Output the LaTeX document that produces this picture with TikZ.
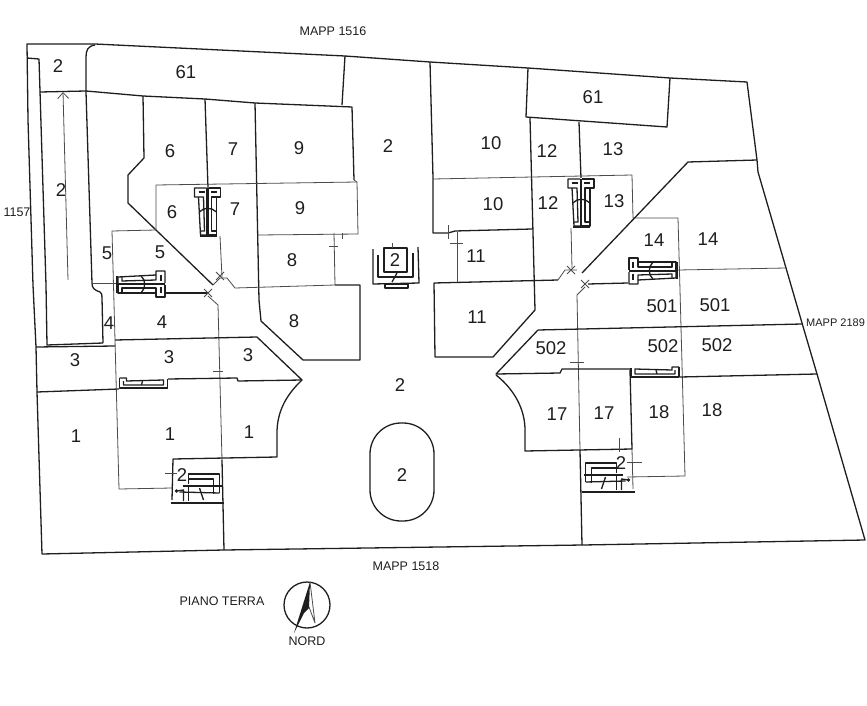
\documentclass[tikz,border=0pt]{standalone}
\usepackage{fontspec}
\setmainfont{Liberation Sans}
\usetikzlibrary{arrows.meta,calc}
\definecolor{ink}{HTML}{1E1E1E}
\tikzset{%
	wall/.style      = {draw=ink, line width=1.3pt, line join=round},
	partition/.style = {draw=ink!80, line width=0.8pt, line join=round},
	heavy/.style     = {draw=ink, line width=2.4pt},
	lot/.style       = {text=ink, font=\fontsize{18.5}{18.5}\selectfont, inner sep=0pt},
	mapp/.style      = {text=ink, font=\fontsize{12.5}{12.5}\selectfont, inner sep=0pt},
	stairtwin/.pic   = {
		\draw[wall] (-1,-24) -- (-13,-24) -- (-13,-15) -- (-9,-15) -- (-7,23) -- (-1,23);
		\draw[wall] (1,-24) -- (13,-24) -- (13,-15) -- (9,-15) -- (9,23) -- (1,23);
		\draw[wall] (-9,-20) -- (-3,-20);
		\draw[wall] (9,-20) -- (3,-20);
		\draw[wall] (-9,-15) -- (-4,-15) -- (-3,19) -- (-7,19);
		\draw[wall] (9,-15) -- (4,-15) -- (4,19) -- (9,19);
		\draw[wall] (-8,0) .. controls (-4,-5) and (4,-5) .. (9,0);
		\draw[heavy] (0,-24) -- (0,24);
		\draw[heavy] (-8,24) -- (9,24);
	},
	stairlow/.pic    = {
		\draw[wall] (-24,-5) -- (-24,5) -- (24,5) -- (24,-4);
		\draw[wall] (-24,-5) -- (-17,-5) -- (-17,-2) -- (20,-3) -- (20,2) -- (-20,2) -- (-20,-2);
		\draw[wall] (-2,2) -- (-1,-2);
		\draw[heavy] (-24,5) -- (24,5);
	},
	stairbase/.pic   = {
		\draw[wall] (-8,-18) -- (-8,-28) -- (23,-28) -- (23,-9);
		\draw[wall] (-8,-23) -- (17,-23) -- (17,-8);
		\draw[heavy] (-14,-16) -- (25,-16);
		\draw[wall] (23,-9) -- (-17,-10);
		\draw[wall] (-8,-15) -- (-8,-1);
		\draw[wall] (-20,-11) -- (-13,-12) -- (-13,-1);
		\fill[ink] (-20,-11) circle (1.8);
		\draw[wall] (3,-14) -- (7,-2);
		\draw[heavy] (-26,1) -- (27,1);
	},
}
\begin{document}
\begin{tikzpicture}[x=1pt,y=-1pt]
	\useasboundingbox (0,0) rectangle (867,706);
	% boundary
	\draw[wall] (27,44) -- (95,44) -- (345,56) -- (430,62) -- (528,68) -- (670,78) -- (747,82) -- (757,160) -- (758,172) -- (786,268) -- (802,323) -- (817,374) -- (865,540) -- (583,545) -- (224,550) -- (42,554) -- (37,392) -- (36,347) -- (33,285) -- (28,120) -- cycle;
	% left strip and top block
	\draw[wall] (27,58) -- (39,59) -- (46,285) -- (47,345) -- (103,343);
	\draw[wall] (95,45) .. controls (88,46) and (86,50) .. (86,57) -- (86,92) -- (92,283) .. controls (92,288) and (94,290) .. (100,292) .. controls (102,293) and (102,295) .. (102,298) -- (103,343);
	\draw[wall] (40,92) -- (86,91) -- (143,96) -- (205,99) -- (255,103) -- (352,107) -- (354,180);
	\draw[wall] (345,56) -- (342,105);
	\draw[wall] (36,347) -- (115,346);
	\draw[wall] (37,392) -- (119,389);
	\draw[partition] (92,283) -- (117,283);
	\draw[partition,-{Straight Barb[length=6pt,width=11pt]}] (68,280) -- (63,92);
	% left wing
	\draw[wall] (143,96) -- (144,158) -- (128,175) -- (128,203) -- (213,285);
	\draw[wall] (205,99) -- (208,188);
	\draw[wall] (255,103) -- (259,300) -- (261,321) -- (303,360) -- (360,360) -- (360,285) -- (335,285);
	\draw[partition] (354,180) -- (357,182) -- (358,234) -- (258,235);
	\draw[partition] (156,185) -- (357,182);
	\draw[partition] (156,185) -- (156,230) -- (112,231) -- (115,340) -- (119,489) -- (172,488);
	\draw[partition] (220,236) -- (222,277);
	\draw[partition] (227,278) -- (235,288) -- (335,285) -- (334,233);
	\draw[wall] (166,293) -- (207,293);
	\draw[partition] (208,296) -- (218,305) -- (222,460);
	\draw[wall] (222,460) -- (224,550);
	\draw[partition] (213,285) -- (220,278) -- (227,278);
	\draw[wall] (115,340) -- (257,337) -- (302,380) -- (238,381) -- (237,378) -- (168,379);
	\draw[wall] (302,380) .. controls (285,396) and (277,413) .. (277,433) -- (277,457) -- (173,459) -- (172,500);
	% right wing
	\draw[wall] (430,62) -- (433,178) -- (433,233) -- (448,233) -- (455,231) -- (532,229);
	\draw[wall] (528,68) -- (526,117) -- (667,127) -- (670,78);
	\draw[wall] (530,118) -- (535,310) -- (493,357) -- (435,357) -- (434,283) -- (558,280);
	\draw[partition] (433,179) -- (632,175) -- (633,218) -- (678,218) -- (680,290) -- (685,476) -- (627,477);
	\draw[partition] (457,232) -- (457,282);
	\draw[wall] (579,122) -- (581,178);
	\draw[partition] (571,228) -- (572,268);
	\draw[partition] (558,280) -- (565,270) -- (577,270);
	\draw[wall] (582,273) -- (688,162) -- (757,160);
	\draw[wall] (588,284) -- (628,283);
	\draw[partition] (585,287) -- (577,295) -- (580,450);
	\draw[wall] (580,450) -- (582,545);
	\draw[partition] (678,270) -- (786,268);
	\draw[wall] (538,330) -- (802,324);
	\draw[wall] (538,330) -- (496,374) -- (560,373) -- (562,369) -- (630,369);
	\draw[wall] (680,377) -- (817,374);
	\draw[wall] (496,375) .. controls (515,390) and (525,410) .. (525,430) -- (525,451) -- (632,449) -- (630,370);
	\draw[partition] (632,449) -- (633,489);
	% ticks and door marks
	\draw[partition] (213,371) -- (223,371);
	\draw[partition] (342,233) -- (342,239);
	\draw[partition] (329,246) -- (338,246);
	\draw[partition] (448,225) -- (448,239);
	\draw[partition] (450,243) -- (463,243);
	\draw[partition] (570,362) -- (584,362);
	\draw[partition] (619,438) -- (619,452);
	\draw[partition] (627,462) -- (642,462);
	\draw[partition] (165,473) -- (177,473);
	\foreach \mx/\my in {220/276,208/293,571/270,585/284} {
		\draw[partition] (\mx-4,\my-4) -- (\mx+4,\my+4);
		\draw[partition] (\mx-4,\my+4) -- (\mx+4,\my-4);
	}
	% staircases
	\pic at (207.5,212) {stairtwin};
	\pic at (581,203) {stairtwin};
	\pic[rotate=-90] at (141,284) {stairtwin};
	\pic[rotate=90] at (653,271) {stairtwin};
	\pic at (143.5,383) {stairlow};
	\pic[xscale=-1] at (655,372) {stairlow};
	\pic at (196.5,502) {stairbase};
	\pic[xscale=-1] at (608.5,491) {stairbase};
	% central stair
	\draw[wall] (384,248) rectangle (407,272);
	\draw[wall] (373,249) -- (373,284) -- (419,283) -- (418,247);
	\draw[wall] (378,255) -- (378,277) -- (413,277) -- (413,253);
	\draw[wall] (385,284) rectangle (408,288);
	\draw[wall] (397,273) -- (392,282);
	\draw[partition] (392,243) -- (392,248);
	% courtyard bed
	\draw[wall,rounded corners=31pt] (370,423) rectangle (434,521);
	% north sign
	\draw[wall] (307,605) circle (23);
	\fill[ink] (310,582) -- (294,633) -- (304,613) -- (309,608) -- cycle;
	\draw[partition] (310,582) -- (315,623) -- (309,607);
	% labels
	\foreach \lx/\ly/\ltext [count=\i] in {58/66/2,186/72/61,61/190/2,170/151/6,233/149/7,299/148/9,388/146/2,491/143/10,547/151/12,613/149/13,593/97/61,172/212/6,235/209/7,300/208/9,493/204/10,548/203/12,614/201/13,107/253/5,160/252/5,292/260/8,395/260/2,476/256/11,654/240/14,708/239/14,109/323/4,162/322/4,294/321/8,477/317/11,662/306/501,715/305/501,75/360/3,169/357/3,248/355/3,551/348/502,663/346/502,717/345/502,400/385/2,76/436/1,170/434/1,249/432/1,557/414/17,604/413/17,659/412/18,712/410/18,182/475/2,402/475/2,621/463/2} {
		\node[lot] (lot\i) at (\lx,\ly) {\ltext};
	}
	\node[mapp] (mappn) at (333,31) {MAPP 1516};
	\node[mapp] (mapps) at (406,566) {MAPP 1518};
	\node[mapp,anchor=west,font=\fontsize{11}{11}\selectfont] (mappe) at (806,323) {MAPP 2189};
	\node[mapp] (mappw) at (17,212) {1157};
	\node[mapp] (piano) at (222,601) {PIANO TERRA};
	\node[mapp] (nord) at (307,641) {NORD};
\end{tikzpicture}
\end{document}
